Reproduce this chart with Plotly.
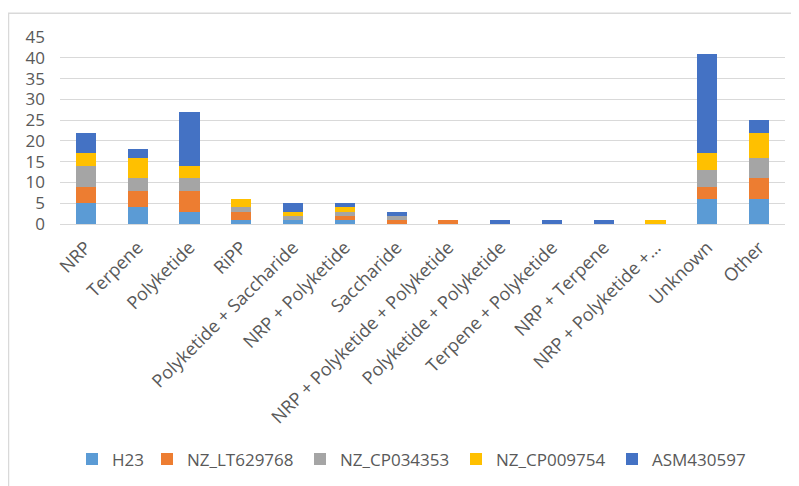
import plotly.graph_objects as go

categories = ["NRP", "Terpene", "Polyketide", "RiPP", "Polyketide + Saccharide",
              "NRP + Polyketide", "Saccharide", "NRP + Polyketide + Polyketide",
              "Polyketide + Polyketide", "Terpene + Polyketide", "NRP + Terpene",
              "NRP + Polyketide +…", "Unknown", "Other"]

h23         = [5, 4, 3, 1, 1, 1, 0, 0, 0, 0, 0, 0, 6, 6]
nz_lt629768 = [4, 4, 5, 2, 0, 1, 1, 1, 0, 0, 0, 0, 3, 5]
nz_cp034353 = [5, 3, 3, 1, 1, 1, 1, 0, 0, 0, 0, 0, 4, 5]
nz_cp009754 = [3, 5, 3, 2, 1, 1, 0, 0, 0, 0, 0, 1, 4, 6]
asm430597   = [5, 2, 13, 0, 2, 1, 1, 0, 1, 1, 1, 0, 24, 3]

series_names = ["H23", "NZ_LT629768", "NZ_CP034353", "NZ_CP009754", "ASM430597"]
series_values = [h23, nz_lt629768, nz_cp034353, nz_cp009754, asm430597]
colors = ["#5B9BD5", "#ED7D31", "#A5A5A5", "#FFC000", "#4472C4"]

y_ticks = [0, 5, 10, 15, 20, 25, 30, 35, 40, 45]

FONT = "Open Sans"
TXT = "#595959"

# page is rendered with an 8px body margin
OFF = 8
W, H = 799 - OFF, 486 - OFF
ml = 60 - OFF
plot_right = 785 - OFF
mr = W - plot_right
mt = 37 - OFF
plot_bottom = 225.3 - OFF
mb = H - plot_bottom
pw = W - ml - mr
ph = H - mt - mb

def pxx(px):  # page px -> paper x
    return (px - OFF - ml) / pw

def pxy(py):  # page px -> paper y
    return (plot_bottom - (py - OFF)) / ph

legend_marker_x = [86, 161, 314, 470, 626]
legend_keys = ["legend", "legend2", "legend3", "legend4", "legend5"]

fig = go.Figure()
for name, vals, col, lk in zip(series_names, series_values, colors, legend_keys):
    fig.add_trace(go.Bar(x=categories, y=vals, name=name, legend=lk,
                         marker=dict(color=col, line=dict(width=0))))

legend_layout = {}
for lk, mx in zip(legend_keys, legend_marker_x):
    legend_layout[lk] = dict(orientation="h", x=pxx(mx - 14), xanchor="left",
                             y=pxy(460), yanchor="middle",
                             font=dict(size=17, color=TXT, family=FONT),
                             bgcolor="rgba(0,0,0,0)", itemwidth=30)

fig.update_layout(
    width=W, height=H,
    barmode="stack", bargap=0.61,
    plot_bgcolor="white", paper_bgcolor="white",
    margin=dict(l=ml, r=mr, t=mt, b=mb, pad=0),
    font=dict(family=FONT, color=TXT, size=17),
    showlegend=True,
    xaxis=dict(tickangle=-45, tickfont=dict(size=18, color=TXT, family=FONT),
               showgrid=False, showline=True, linecolor="#D9D9D9", linewidth=1,
               ticks="", ticklabelstandoff=5, automargin=False),
    yaxis=dict(range=[0, 45], tickvals=y_ticks, showgrid=True, gridcolor="#D9D9D9",
               gridwidth=1, zeroline=False, showline=False, ticks="",
               ticklabelstandoff=14,
               tickfont=dict(size=17, color=TXT, family=FONT), automargin=False),
    shapes=[dict(type="rect", xref="paper", yref="paper",
                 x0=pxx(8.5), x1=pxx(830),
                 y0=pxy(530), y1=pxy(13),
                 line=dict(color="#D9D9D9", width=1.5), fillcolor="rgba(0,0,0,0)",
                 layer="below")],
    **legend_layout,
)

fig.write_html("out.html")
